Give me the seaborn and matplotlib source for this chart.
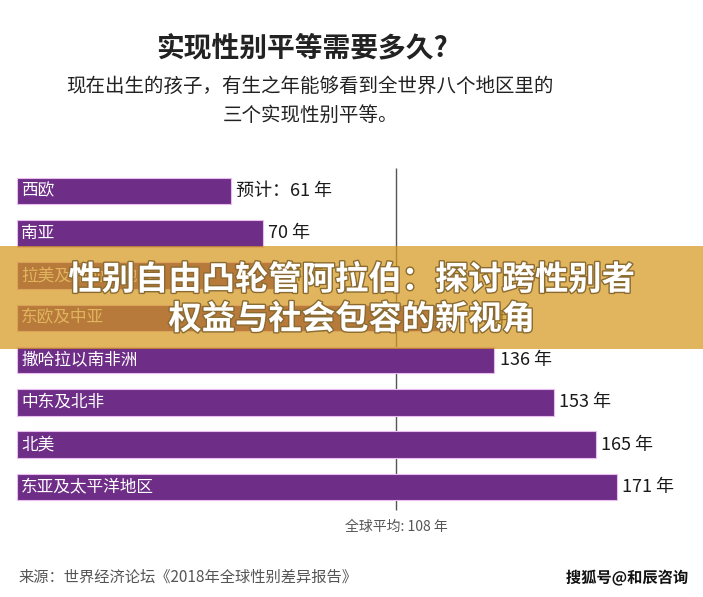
import matplotlib
matplotlib.use("Agg")
import matplotlib.pyplot as plt
import matplotlib.patheffects as pe
from matplotlib.patches import Rectangle
import seaborn as sns
import pandas as pd

regions = ["西欧", "南亚", "拉美及加勒比地区", "东欧及中亚", "撒哈拉以南非洲", "中东及北非", "北美", "东亚及太平洋地区"]
years = [61, 70, 74, 124, 136, 153, 165, 171]
value_labels = ["预计：61 年", "70 年", "74 年", "124 年", "136 年", "153 年", "165 年", "171 年"]
global_avg = 108

title = "实现性别平等需要多久?"
subtitle = "现在出生的孩子，有生之年能够看到全世界八个地区里的\n三个实现性别平等。"
avg_label = "全球平均: 108 年"
source = "来源：世界经济论坛《2018年全球性别差异报告》"
banner = "性别自由凸轮管阿拉伯：探讨跨性别者\n权益与社会包容的新视角"
watermark = "搜狐号@和辰咨询"

sns.set_theme(style="white")
plt.rcParams['font.family'] = ['Noto Sans CJK SC', 'DejaVu Sans']

W, H = 703, 597
fig = plt.figure(figsize=(W / 100, H / 100), dpi=100)
fig.patch.set_facecolor("white")

px_per_year = 3.51
x0 = 17
xmax = (W - x0) / px_per_year
top_px, bot_px = 170, 508
ax = fig.add_axes([x0 / W, 1 - bot_px / H, (W - x0) / W, (bot_px - top_px) / H])

df = pd.DataFrame({"region": regions, "years": years})
sns.barplot(data=df, x="years", y="region", orient="h", color="#6E2D86",
            saturation=1, width=0.63, edgecolor="#E9BDF0", linewidth=0.8, ax=ax)
ax.set_xlim(0, xmax)
ax.set_ylim(7.5, -0.5)
ax.axis("off")

for i, (r, v, lab) in enumerate(zip(regions, years, value_labels)):
    ax.text(1.2, i, r, color="white", fontsize=12, va="center", ha="left")
    ax.text(v + 1.5, i, lab, color="#1a1a1a", fontsize=13, va="center", ha="left")

ax.vlines(global_avg, -0.55, 7.55, color="#555555", linewidth=1.0, clip_on=False, zorder=0)
ax.text(global_avg, 7.95, avg_label, color="#555555", fontsize=10, style="italic",
        ha="center", va="center")

fig.text(302 / W, 1 - 48 / H, title, fontsize=20, fontweight="bold", color="#222222",
         ha="center", va="center")
fig.text(310 / W, 1 - 101 / H, subtitle, fontsize=14, color="#222222",
         ha="center", va="center", linespacing=1.55)
fig.text(18 / W, 1 - 577 / H, source, fontsize=11, color="#555555", ha="left", va="center")
fig.text(688 / W, 1 - 578 / H, watermark, fontsize=11, fontweight="bold", color="#111111",
         ha="right", va="center",
         path_effects=[pe.withStroke(linewidth=2.5, foreground="white")])

fig.add_artist(Rectangle((0, 1 - 349 / H), 1, (349 - 246) / H, transform=fig.transFigure,
                         facecolor="#D5991F", alpha=0.72, edgecolor="none", zorder=10))
fig.text(352 / W, 1 - 300 / H, banner, fontsize=24, fontweight="bold", color="white",
         ha="center", va="center", linespacing=1.25, zorder=11,
         path_effects=[pe.withStroke(linewidth=2, foreground="#8a6a30")])

fig.savefig("out.png", dpi=100, facecolor="white")
